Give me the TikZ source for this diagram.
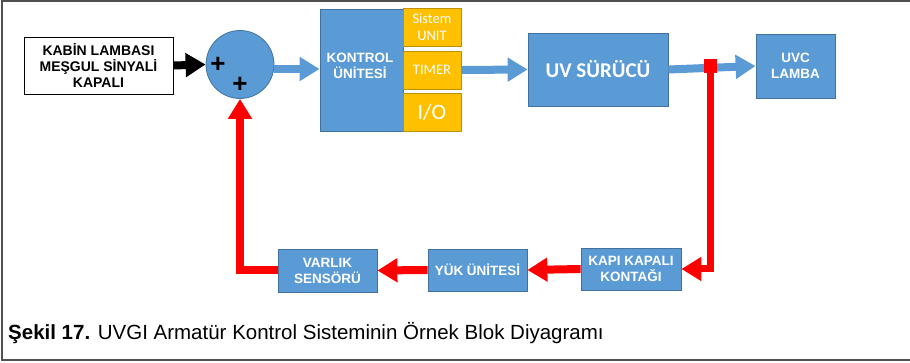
\documentclass[tikz,border=0pt]{standalone}
\usepackage{fontspec}
\setmainfont{Liberation Sans}
\newfontfamily\calibri{Carlito}
\usetikzlibrary{arrows.meta}

\definecolor{blokmavi}{HTML}{5B9BD5}
\definecolor{blokkenar}{HTML}{41719C}
\definecolor{sari}{HTML}{FFC000}
\definecolor{sarikenar}{HTML}{BF9000}
\definecolor{cerceve}{HTML}{505050}

\begin{document}
\begin{tikzpicture}[x=1pt,y=-1pt,line join=miter,
    blokyazi/.style={text=white,align=center,font=\bfseries\fontsize{13.5}{16}\selectfont},
    blok/.style={blokyazi,draw=blokkenar,fill=blokmavi,line width=0.8pt,inner sep=0pt},
    sarikutu/.style={draw=sarikenar,fill=sari,line width=0.8pt,inner sep=0pt,
      text=white,align=center,minimum width=58pt,minimum height=38pt},
    kalinok/.style={-{Triangle[length=20pt,width=23pt]},line width=8pt},
    maviok/.style={kalinok,blokmavi},
    kirmiziok/.style={kalinok,red},
    arti/.style={inner sep=0pt,font=\bfseries\fontsize{26}{26}\selectfont}]
  \useasboundingbox (0,0) rectangle (910,363);
  % outer frame, open on the right
  \draw[cerceve,line width=2pt] (910,1) -- (2,1) -- (2,360) -- (910,360);

  % top row
  \node[draw,line width=0.8pt,fill=white,inner sep=0pt,minimum width=149pt,minimum height=57pt,
    align=center,font=\bfseries\fontsize{14}{16}\selectfont] (kabin) at (98.5,65.5)
    {KABİN LAMBASI\\MEŞGUL SİNYALİ\\KAPALI};
  \node[circle,draw=blokkenar,fill=blokmavi,line width=0.8pt,minimum size=68pt] (toplam) at (240,64.5) {};
  \node[arti] (arti1) at (218,65) {+};
  \node[arti] (arti2) at (240,85) {+};
  \node[blok,minimum width=83pt,minimum height=122pt] (kontrol) at (361.5,70.5) {};
  \node[blokyazi] (kontrolyazi) at (360,66) {KONTROL\\ÜNİTESİ};
  \node[sarikutu,font=\calibri\fontsize{14.5}{17}\selectfont] (sistem) at (432,27.5) {Sistem\\UNIT};
  \node[sarikutu,font=\calibri\fontsize{14.5}{17}\selectfont] (timer) at (432,70) {TIMER};
  \node[sarikutu,font=\calibri\fontsize{22}{24}\selectfont] (io) at (432,112.5) {I/O};
  \node[blok,minimum width=140pt,minimum height=73pt,font=\calibri\bfseries\fontsize{21}{24}\selectfont] (surucu) at (598,69.5) {UV SÜRÜCÜ};
  \node[blok,minimum width=79pt,minimum height=64pt] (lamba) at (795.5,66) {UVC\\LAMBA};

  % bottom row
  \node[blok,minimum width=100pt,minimum height=42pt] (kapi) at (631,269) {KAPI KAPALI\\KONTAĞI};
  \node[blok,minimum width=99pt,minimum height=42pt] (yuk) at (477.5,270) {YÜK ÜNİTESİ};
  \node[blok,minimum width=99pt,minimum height=43pt] (varlik) at (327.5,270.5) {VARLIK\\SENSÖRÜ};

  % forward path
  \draw[kalinok,black] (kabin.east) -- (toplam.west);
  \draw[maviok] (toplam.east |- 0,69) -- (kontrol.west |- 0,69);
  \draw[maviok] (timer.east) -- (surucu.west);
  \draw[maviok] (surucu.east) -- (lamba.west);
  \node[fill=red,inner sep=0pt,minimum size=13.5pt] (kare) at (710.5,66) {};

  % feedback path
  \draw[kirmiziok,line width=7pt] (kare.center) -- (kare |- kapi) -- (kapi.east);
  \draw[kirmiziok] (kapi.west) -- (yuk.east);
  \draw[kirmiziok] (yuk.west) -- (varlik.east);
  \draw[kirmiziok] (varlik.west) -| (toplam.south);

  \node[anchor=base west,inner sep=0pt,font=\fontsize{20.5}{22}\selectfont] (sekil) at (8,339)
    {\textbf{Şekil 17.} UVGI Armatür Kontrol Sisteminin Örnek Blok Diyagramı};
\end{tikzpicture}
\end{document}
